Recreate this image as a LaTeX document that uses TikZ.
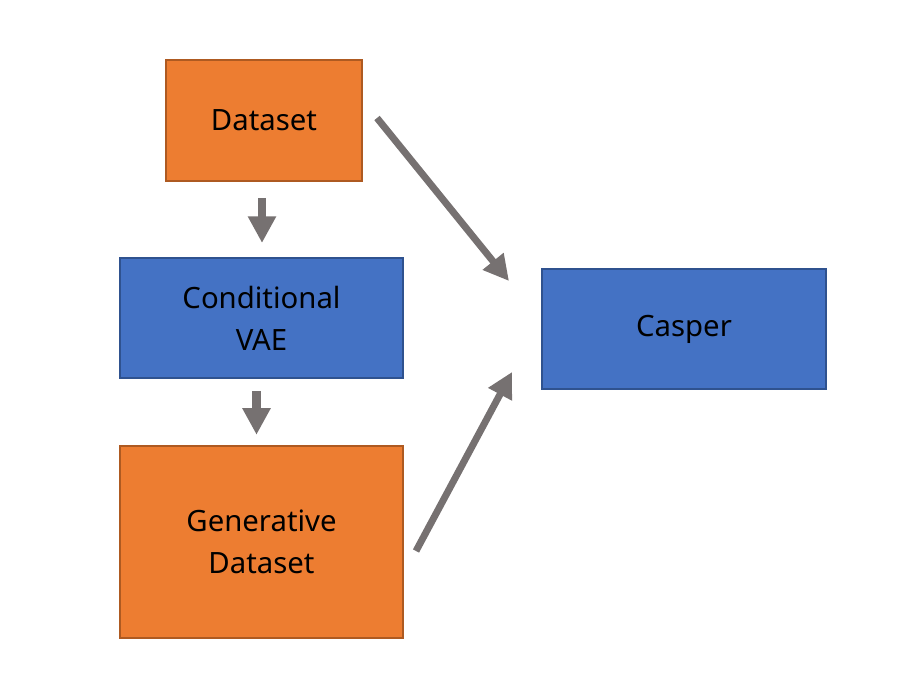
\documentclass[tikz,border=0pt]{standalone}
\usepackage{fontspec}
\setmainfont{Noto Sans}
\usetikzlibrary{arrows.meta}
\definecolor{boxorange}{HTML}{ED7D31}
\definecolor{lineorange}{HTML}{AE5A21}
\definecolor{boxblue}{HTML}{4472C4}
\definecolor{lineblue}{HTML}{2F528F}
\definecolor{arrowgray}{HTML}{767171}
\tikzset{
  obox/.style={draw=lineorange,fill=boxorange,line width=1.2pt,align=center,inner sep=0pt},
  bbox/.style={draw=lineblue,fill=boxblue,line width=1.2pt,align=center,inner sep=0pt},
  flow/.style={arrowgray,line width=6.5pt,-{Triangle[length=20pt,width=20pt]}},
  flowd/.style={arrowgray,line width=5.2pt,-{Triangle[length=19pt,width=19pt]}}
}
\begin{document}
\begin{tikzpicture}[x=0.75pt,y=-0.75pt,font=\fontsize{22}{31.5}\selectfont]
\useasboundingbox (0,0) rectangle (911,696);
\node[obox,minimum width=147pt,minimum height=91pt] (dataset) at (264,120.5) {Dataset};
\node[bbox,minimum width=212pt,minimum height=90pt] (cvae) at (261.5,318) {Conditional\\VAE};
\node[obox,minimum width=212pt,minimum height=144pt] (gendata) at (261.5,542) {Generative\\Dataset};
\node[bbox,minimum width=213pt,minimum height=90pt] (casper) at (684,329) {Casper};
% diagonal ends
\coordinate (ds) at (377,118);
\coordinate (ct) at (509,281);
\coordinate (gs) at (416,551);
\coordinate (cb) at (512,372);
\draw[flow] ([xshift=-1.5pt]dataset.south) ++(0,16) -- ++(0,45);
\draw[flow] ([xshift=-3.75pt]cvae.south) ++(0,12) -- ++(0,44);
\draw[flowd] (ds) -- (ct);
\draw[flowd] (gs) -- (cb);
\end{tikzpicture}
\end{document}
